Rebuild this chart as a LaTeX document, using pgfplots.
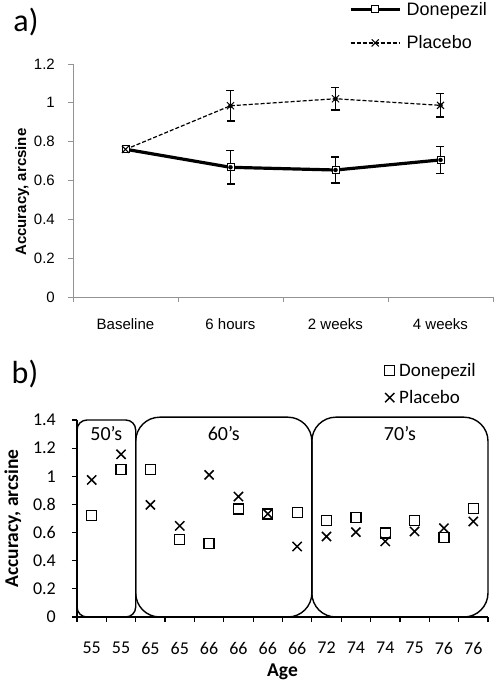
\documentclass[border=0pt]{standalone}
\usepackage{fontspec}
\setmainfont{Liberation Sans}
\newfontfamily\arialf{Liberation Sans}
\newfontfamily\calib{Carlito}
\usepackage{pgfplots}
\pgfplotsset{compat=1.18}
\usepackage{pgfplotstable}

\pgfplotstableread{
x y
0 0.761
1 0.668
2 0.654
3 0.706
}\donepa
\pgfplotstableread{
x y e
1 0.668 0.086
2 0.654 0.067
3 0.706 0.069
}\donepaerr
\pgfplotstableread{
x y
0 0.760
1 0.985
2 1.021
3 0.987
}\placa
\pgfplotstableread{
x y e
1 0.985 0.078
2 1.021 0.058
3 0.987 0.060
}\placaerr
\pgfplotstableread{
x D P
0 0.721 0.974
1 1.050 1.156
2 1.050 0.797
3 0.549 0.648
4 0.520 1.010
5 0.768 0.856
6 0.733 0.733
7 0.742 0.501
8 0.686 0.572
9 0.709 0.603
10 0.596 0.537
11 0.686 0.608
12 0.567 0.631
13 0.773 0.679
}\panelb

\begin{document}
\begin{tikzpicture}
\useasboundingbox (0pt,0pt) rectangle (498pt,686pt);

% ---------------- panel a ----------------
\node[font=\calib\fontsize{32}{38}\selectfont] at (26pt,664pt) {a)};
\begin{axis}[
  at={(73pt,389pt)}, anchor=south west,
  scale only axis, width=420pt, height=233pt,
  xmin=-0.5, xmax=3.5, ymin=0, ymax=1.2,
  axis x line*=bottom, axis y line*=left,
  axis line style={draw=gray!85, line width=0.8pt, -},
  xtick={0,1,2,3}, xticklabels={Baseline,6 hours,2 weeks,4 weeks},
  minor xtick={-0.5,0.5,1.5,2.5,3.5},
  major x tick style={draw=none},
  ytick={0,0.2,0.4,0.6,0.8,1,1.2},
  tick align=outside,
  tick style={draw=gray!85, line width=0.8pt},
  major tick length=5pt, minor tick length=5pt,
  /pgf/number format/assume math mode=true,
  xticklabel style={font=\arialf\fontsize{15}{18}\selectfont, anchor=center, yshift=-22pt},
  yticklabel style={font=\arialf\fontsize{15}{18}\selectfont, anchor=east, inner sep=0pt, xshift=-13pt},
  ylabel={Accuracy, arcsine},
  every axis y label/.style={at={(axis description cs:-0.121,0.45)}, rotate=90, anchor=center, font=\arialf\bfseries\fontsize{15}{18}\selectfont},
  legend style={at={(axis description cs:0.657,1.275)}, anchor=north west, draw=none, fill=none,
    font=\arialf\fontsize{18}{21}\selectfont, row sep=15pt, inner sep=0pt, cells={anchor=west, inner sep=1pt}},
  legend image code/.code={\draw[mark repeat=2,mark phase=2,#1] plot coordinates {(0pt,0pt) (24.5pt,0pt) (49pt,0pt)}; \path[draw=none] (0pt,0pt) -- (54pt,0pt);},
]
\addplot[black, line width=3.2pt, mark=square*, mark options={solid, fill=white, line width=0.9pt, mark size=3.5pt}] table[x=x,y=y] {\donepa};
\addlegendentry{\arialf\fontsize{18}{21}\selectfont Donepezil}
\addplot[black, line width=1.2pt, dash pattern=on 4pt off 2pt, mark=x, mark options={solid, line width=1pt, mark size=5pt}] table[x=x,y=y] {\placa};
\addlegendentry{\arialf\fontsize{18}{21}\selectfont Placebo}
\addplot[black, only marks, mark=none, forget plot,
  error bars/.cd, y dir=both, y explicit,
  error bar style={black, line width=1.4pt, solid},
  error mark options={rotate=90, mark size=4pt, line width=1.4pt, black, solid}]
  table[x=x, y=y, y error=e] {\donepaerr};
\addplot[black, only marks, mark=none, forget plot,
  error bars/.cd, y dir=both, y explicit,
  error bar style={black, line width=1.4pt, solid},
  error mark options={rotate=90, mark size=4pt, line width=1.4pt, black, solid}]
  table[x=x, y=y, y error=e] {\placaerr};
\end{axis}

% ---------------- panel b ----------------
\node[font=\calib\fontsize{32}{38}\selectfont] at (25pt,312pt) {b)};
\begin{axis}[
  at={(77pt,69pt)}, anchor=south west,
  scale only axis, width=411pt, height=197pt,
  xmin=-0.5, xmax=13.5, ymin=0, ymax=1.4, clip=false,
  axis x line*=bottom, axis y line*=left,
  axis line style={draw=black, line width=1.2pt, -},
  xtick={0,...,13}, xticklabels={55,55,65,65,66,66,66,66,72,74,74,75,76,76},
  minor xtick={-0.5,0.5,...,13.5},
  major x tick style={draw=none},
  ytick={0,0.2,0.4,0.6,0.8,1,1.2,1.4},
  tick align=outside,
  tick style={draw=black, line width=1.2pt},
  major tick length=5pt, minor tick length=5pt,
  /pgf/number format/assume math mode=true,
  xticklabel style={font=\calib\fontsize{18}{21}\selectfont, anchor=center, yshift=-26pt},
  yticklabel style={font=\calib\fontsize{18}{21}\selectfont, anchor=east, inner sep=0pt, xshift=-16pt},
  xlabel={Age},
  every axis x label/.style={at={(axis description cs:0.5,-0.279)}, anchor=center, font=\calib\bfseries\fontsize{19.5}{22}\selectfont},
  ylabel={Accuracy, arcsine},
  every axis y label/.style={at={(axis description cs:-0.156,0.5)}, rotate=90, anchor=center, font=\calib\bfseries\fontsize{19.5}{22}\selectfont},
  legend style={at={(axis description cs:0.747,1.30)}, anchor=north west, draw=none, fill=none,
    font=\calib\fontsize{19}{22}\selectfont, row sep=8.5pt, inner sep=0pt, cells={anchor=west, inner sep=1pt}},
  legend image code/.code={\draw[#1] plot coordinates {(5.5pt,0pt)}; \path[draw=none] (0pt,0pt) -- (13pt,0pt);},
]
\addplot[black, only marks, mark=square, mark options={line width=1.3pt, mark size=5pt}] table[x=x,y=D] {\panelb};
\addlegendentry{\calib\fontsize{19}{22}\selectfont Donepezil}
\addplot[black, only marks, mark=x, mark options={line width=1.5pt, mark size=6.5pt}] table[x=x,y=P] {\panelb};
\addlegendentry{\calib\fontsize{19}{22}\selectfont Placebo}
\draw[line width=1.4pt, rounded corners=10pt] (axis cs:-0.5,0) rectangle (axis cs:1.5,1.4);
\draw[line width=1.4pt, rounded corners=24pt] (axis cs:1.5,0) rectangle (axis cs:7.5,1.42);
\draw[line width=1.4pt, rounded corners=24pt] (axis cs:7.5,0) rectangle (axis cs:13.5,1.42);
\node[font=\calib\fontsize{20}{24}\selectfont] at (axis cs:0.5,1.305) {50’s};
\node[font=\calib\fontsize{20}{24}\selectfont] at (axis cs:4.5,1.305) {60’s};
\node[font=\calib\fontsize{20}{24}\selectfont] at (axis cs:10.5,1.305) {70’s};
\end{axis}
\end{tikzpicture}
\end{document}
